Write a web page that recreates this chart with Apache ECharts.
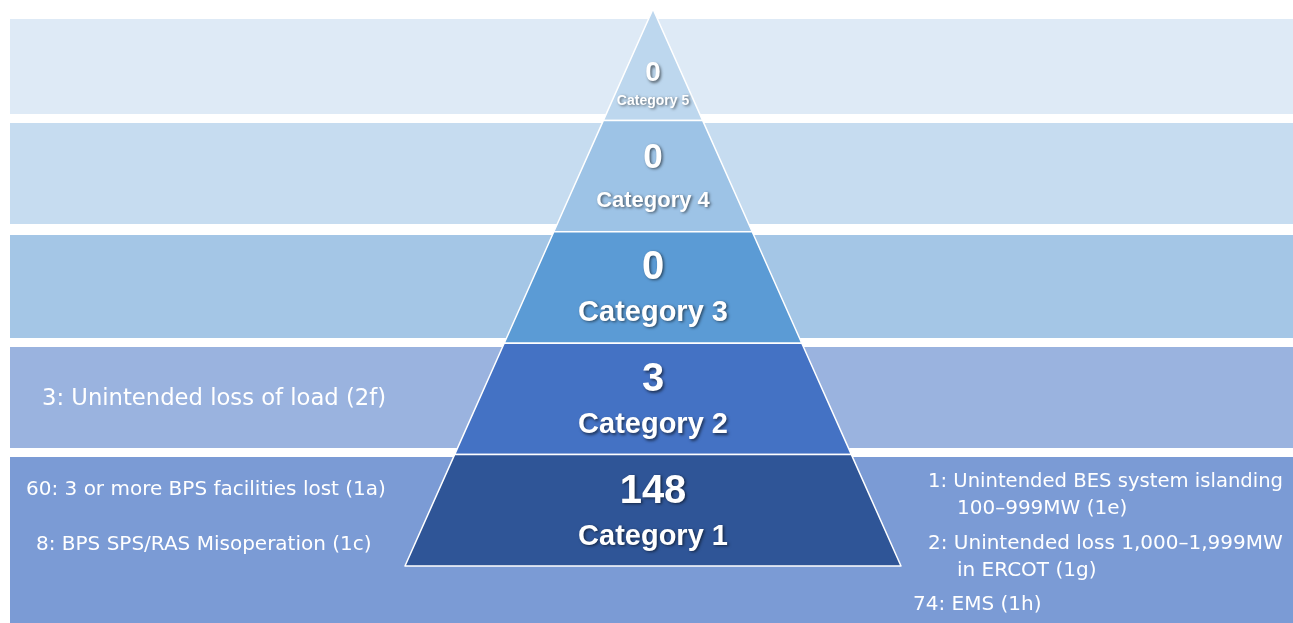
<!DOCTYPE html>
<html>
<head>
<meta charset="utf-8">
<script src="https://cdn.jsdelivr.net/npm/echarts@6/dist/echarts.min.js"></script>
<style>
  html, body { margin: 0; padding: 0; background: #fff; }
  #chart { width: 1293px; height: 623px; }
</style>
</head>
<body>
<div id="chart"></div>
<script>
// pyramid tiers, top to bottom
const categories = ['Category 5', 'Category 4', 'Category 3', 'Category 2', 'Category 1'];
const counts = [0, 0, 0, 3, 148];
const tierLevels = [1, 2, 3, 4, 5]; // width step of each tier in the pyramid

// event notes beside the pyramid
const notesCat2Left = ['3: Unintended loss of load (2f)'];
const notesCat1Left = ['60: 3 or more BPS facilities lost (1a)', '8: BPS SPS/RAS Misoperation (1c)'];
const notesCat1Right = [
  ['1: Unintended BES system islanding', '100\u2013999MW (1e)'],
  ['2: Unintended loss 1,000\u20131,999MW', 'in ERCOT (1g)'],
  ['74: EMS (1h)']
];

// styling
const tierColors = ['#BDD7EE', '#9DC3E6', '#5B9BD5', '#4472C4', '#2F5597'];
const bandColors = ['#DEEAF6', '#C6DCF0', '#A4C6E6', '#9AB3DF', '#7B9BD5'];
const bandRows = [[19, 114], [123, 224], [235, 338], [347, 448], [457, 623]];
const numSize = [28, 35, 40, 40, 40];
const catSize = [14, 22, 29, 29, 29];
const labelPadTop = [38, 8, 4, 7, 7];

const chart = echarts.init(document.getElementById('chart'), null, { renderer: 'canvas' });

const shadow = {
  textShadowColor: 'rgba(0,0,0,0.55)',
  textShadowBlur: 3,
  textShadowOffsetX: 1.5,
  textShadowOffsetY: 1.5
};

const graphics = [];
bandRows.forEach(function (r, i) {
  graphics.push({
    type: 'rect', z: -10, silent: true,
    shape: { x: 10, y: r[0], width: 1283, height: r[1] - r[0] },
    style: { fill: bandColors[i] }
  });
});

function note(text, x, y, size) {
  graphics.push({ type: 'text', z: 5, silent: true, x: x, y: y,
    style: { text: text, textAlign: 'left', verticalAlign: 'middle', fill: '#fff',
      fontFamily: 'DejaVu Sans', fontSize: size || 20 } });
}
note(notesCat2Left[0], 42, 399, 22.7);
note(notesCat1Left[0], 26, 490);
note(notesCat1Left[1], 36, 545);
note(notesCat1Right[0][0], 928, 482, 19.6);
note(notesCat1Right[0][1], 957, 509);
note(notesCat1Right[1][0], 928, 544);
note(notesCat1Right[1][1], 957, 571);
note(notesCat1Right[2][0], 913, 605);

const seriesData = categories.map(function (c, i) {
  return {
    name: c,
    value: tierLevels[i],
    count: counts[i],
    itemStyle: { color: tierColors[i] },
    label: {
      padding: [labelPadTop[i], 0, 0, 0],
      rich: {
        n: Object.assign({ fontSize: numSize[i], fontWeight: 'bold', color: '#fff',
          fontFamily: 'Liberation Sans', lineHeight: numSize[i] + 6 }, shadow),
        c: Object.assign({ fontSize: catSize[i], fontWeight: 'bold', color: '#fff',
          fontFamily: 'Liberation Sans', lineHeight: i === 0 ? 20 : 44 }, shadow)
      }
    }
  };
});

const option = {
  animation: false,
  backgroundColor: '#fff',
  graphic: graphics,
  series: [{
    type: 'funnel',
    left: 405,
    top: 9,
    width: 496,
    height: 557,
    min: 0,
    max: 5,
    minSize: '0%',
    maxSize: '100%',
    sort: 'ascending',
    gap: 0,
    itemStyle: { borderColor: '#fff', borderWidth: 1.5 },
    label: {
      show: true,
      position: 'inside',
      formatter: function (p) {
        return '{n|' + p.data.count + '}\n{c|' + p.name + '}';
      }
    },
    labelLine: { show: false },
    emphasis: { disabled: true },
    data: seriesData
  }]
};

chart.setOption(option);
</script>
</body>
</html>
